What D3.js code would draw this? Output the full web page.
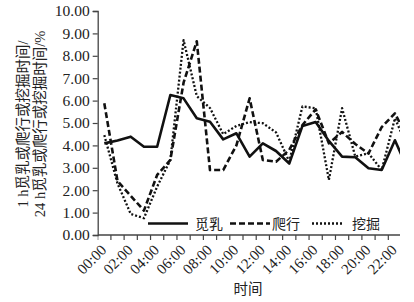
<!DOCTYPE html>
<html>
<head>
<meta charset="utf-8">
<script src="https://cdn.jsdelivr.net/npm/d3@7"></script>
<style>
  body { margin: 0; background: #fff; }
  svg { display: block; }
</style>
</head>
<body>
<div id="chart"></div>
<script>
// hours on x axis
var hours = d3.range(24).map(function (h) { return (h < 10 ? "0" : "") + h + ":00"; });
var yTicks = [0, 1, 2, 3, 4, 5, 6, 7, 8, 9, 10];

// 觅乳
var feeding = [4.09, 4.22, 4.39, 3.94, 3.94, 6.25, 6.1, 5.21, 5.06, 4.27, 4.54, 3.5,
  4.09, 3.75, 3.19, 4.87, 5.04, 4.2, 3.5, 3.47, 2.98, 2.9, 4.23, 2.9];
// 爬行
var crawling = [5.88, 2.41, 1.75, 1.09, 2.68, 3.35, 6.8, 8.65, 2.9, 2.9, 4.0, 6.1,
  3.35, 3.27, 3.8, 4.91, 5.61, 4.09, 4.6, 4.06, 3.64, 4.82, 5.43, 4.27];
// 挖掘
var digging = [4.46, 2.3, 0.94, 0.75, 2.16, 3.35, 8.7, 6.2, 5.67, 4.5, 4.87, 5.04,
  4.99, 4.58, 3.28, 5.74, 5.66, 2.46, 5.66, 3.5, 3.65, 2.9, 5.21, 3.86];

var seriesNames = ["觅乳", "爬行", "挖掘"];

var svgWidth = 414, svgHeight = 302;
var plotLeft = 97.7, plotTop = 11, plotBottom = 235, cropRight = 400;
var band = 13.21;

var serif = "'Liberation Serif', 'Times New Roman', serif";
var cjk = "'Liberation Serif', 'Noto Sans CJK SC', serif";

var svg = d3.select("#chart")
  .append("svg")
  .attr("width", svgWidth)
  .attr("height", svgHeight);

var xscale = d3.scaleBand().domain(hours).range([plotLeft, plotLeft + band * 24]);
var yscale = d3.scaleLinear().domain([0, 10]).range([plotBottom, plotTop]);

svg.append("defs").append("clipPath").attr("id", "clip")
  .append("rect")
  .attr("x", plotLeft).attr("y", 0)
  .attr("width", cropRight - plotLeft).attr("height", plotBottom + 10);

// y axis
var yaxis = d3.axisLeft(yscale)
  .tickValues(yTicks)
  .tickSize(5)
  .tickFormat(d3.format(".2f"));

var gy = svg.append("g")
  .attr("transform", "translate(" + plotLeft + ",0)")
  .call(yaxis);
gy.select(".domain").attr("stroke", "#444").attr("stroke-width", 1.3);
gy.selectAll(".tick line").attr("stroke", "#444").attr("stroke-width", 1.2);
gy.selectAll(".tick text")
  .attr("x", -8)
  .style("font-family", serif)
  .style("font-size", "15.5px")
  .attr("fill", "#222");

// x axis, ticks between categories
var gx = svg.append("g").attr("clip-path", "url(#clip)");
gx.append("line")
  .attr("x1", plotLeft).attr("x2", cropRight)
  .attr("y1", plotBottom).attr("y2", plotBottom)
  .attr("stroke", "#444").attr("stroke-width", 1.3);
gx.selectAll(".xtick")
  .data(hours)
  .enter()
  .append("line")
  .attr("class", "xtick")
  .attr("x1", function (d) { return xscale(d); })
  .attr("x2", function (d) { return xscale(d); })
  .attr("y1", plotBottom)
  .attr("y2", plotBottom + 5)
  .attr("stroke", "#444").attr("stroke-width", 1.2);

svg.selectAll(".xlabel")
  .data(hours.filter(function (d, i) { return i % 2 === 0; }))
  .enter()
  .append("text")
  .attr("class", "xlabel")
  .attr("transform", function (d) {
    var cx = xscale(d) + xscale.bandwidth() / 2;
    return "translate(" + (cx + 3) + "," + 251 + ") rotate(-45)";
  })
  .style("text-anchor", "end")
  .style("font-family", serif)
  .style("font-size", "15px")
  .attr("fill", "#222")
  .text(function (d) { return d; });

svg.append("text")
  .attr("x", 248)
  .attr("y", 294)
  .style("text-anchor", "middle")
  .style("font-family", cjk)
  .style("font-size", "14.5px")
  .attr("fill", "#222")
  .text("时间");

// y title (two lines)
var ytitle = svg.append("text")
  .attr("transform", "translate(0,124) rotate(-90)")
  .style("text-anchor", "middle")
  .style("font-family", cjk)
  .style("font-size", "14.5px")
  .attr("fill", "#222");
ytitle.append("tspan").attr("x", 0).attr("y", 28).text("1 h觅乳或爬行或挖掘时间/");
ytitle.append("tspan").attr("x", 0).attr("y", 45).text("24 h觅乳或爬行或挖掘时间/%");

// lines
var styles = [
  { data: feeding, dash: null, w: 2.6 },
  { data: crawling, dash: "6,3", w: 2.6 },
  { data: digging, dash: "2,2", w: 2.3 }
];

var line = d3.line()
  .x(function (d, i) { return xscale(hours[i]) + xscale.bandwidth() / 2; })
  .y(function (d) { return yscale(d); });

var plot = svg.append("g").attr("clip-path", "url(#clip)");

plot.selectAll(".series")
  .data(styles)
  .enter()
  .append("path")
  .attr("class", "series")
  .attr("d", function (d) { return line(d.data); })
  .attr("fill", "none")
  .attr("stroke", "#111")
  .attr("stroke-width", function (d) { return d.w; })
  .attr("stroke-dasharray", function (d) { return d.dash; })
  .attr("stroke-linejoin", "round");

// legend sits over the plot with white backing
var legendItems = [
  { x: 148, tx: 195, s: styles[0] },
  { x: 230, tx: 272, s: styles[1] },
  { x: 312, tx: 352, s: styles[2] }
];

var legend = svg.append("g");
legend.append("rect")
  .attr("x", 146).attr("y", 216)
  .attr("width", 246).attr("height", 16)
  .attr("fill", "#fff");

legend.selectAll(".lline")
  .data(legendItems)
  .enter()
  .append("line")
  .attr("x1", function (d) { return d.x; })
  .attr("x2", function (d, i) { return d.x + (i === 2 ? 32 : 40); })
  .attr("y1", 223.5).attr("y2", 223.5)
  .attr("stroke", "#111")
  .attr("stroke-width", function (d) { return d.s.w; })
  .attr("stroke-dasharray", function (d) { return d.s.dash; });

legend.selectAll(".ltext")
  .data(legendItems)
  .enter()
  .append("text")
  .attr("x", function (d) { return d.tx; })
  .attr("y", 229)
  .style("font-family", cjk)
  .style("font-size", "14px")
  .attr("fill", "#222")
  .text(function (d, i) { return seriesNames[i]; });
</script>
</body>
</html>
